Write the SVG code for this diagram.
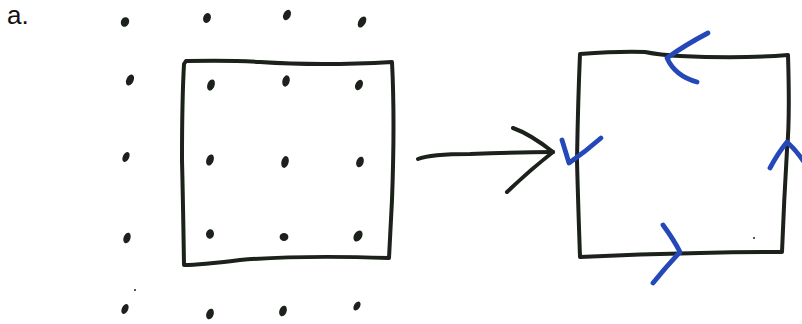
<svg xmlns="http://www.w3.org/2000/svg" width="802" height="324" viewBox="0 0 802 324">
<style>
.ink{fill:none;stroke:#1c211c;stroke-width:4;stroke-linecap:round;stroke-linejoin:round}
.blue{fill:none;stroke:#2448b8;stroke-width:4.8;stroke-linecap:round;stroke-linejoin:round}
.dot{fill:#1c211c}
.lbl{font-family:"Liberation Sans",Arial,sans-serif;font-size:26px;fill:#111}
</style>
<rect width="802" height="324" fill="#ffffff"/>
<text class="lbl" x="7" y="24">a.</text>
<g id="dots">
<ellipse class="dot" cx="125" cy="22" rx="4" ry="5" transform="rotate(25 125 22)"/>
<ellipse class="dot" cx="207" cy="18" rx="3.8" ry="5" transform="rotate(20 207 18)"/>
<ellipse class="dot" cx="287" cy="15" rx="3.6" ry="5.5" transform="rotate(25 287 15)"/>
<ellipse class="dot" cx="362" cy="22" rx="3.6" ry="6" transform="rotate(30 362 22)"/>
<ellipse class="dot" cx="130" cy="80" rx="3.6" ry="5.8" transform="rotate(25 130 80)"/>
<ellipse class="dot" cx="211" cy="85" rx="3.6" ry="5.8" transform="rotate(20 211 85)"/>
<ellipse class="dot" cx="286" cy="81" rx="3.6" ry="5.8" transform="rotate(15 286 81)"/>
<ellipse class="dot" cx="359" cy="85" rx="3.6" ry="5.5" transform="rotate(25 359 85)"/>
<ellipse class="dot" cx="126" cy="157" rx="3.2" ry="5.2" transform="rotate(25 126 157)"/>
<ellipse class="dot" cx="210" cy="160" rx="3.6" ry="5.8" transform="rotate(20 210 160)"/>
<ellipse class="dot" cx="285" cy="162" rx="3.6" ry="6" transform="rotate(15 285 162)"/>
<ellipse class="dot" cx="360" cy="162" rx="3.6" ry="5.5" transform="rotate(20 360 162)"/>
<ellipse class="dot" cx="127" cy="238" rx="3.4" ry="5.5" transform="rotate(20 127 238)"/>
<ellipse class="dot" cx="210" cy="234" rx="4" ry="4.8" transform="rotate(10 210 234)"/>
<ellipse class="dot" cx="284" cy="237" rx="4.4" ry="4"/>
<ellipse class="dot" cx="358" cy="236" rx="4" ry="6" transform="rotate(30 358 236)"/>
<circle class="dot" cx="135" cy="290" r="1"/>
<ellipse class="dot" cx="125" cy="309" rx="3.2" ry="5.2" transform="rotate(25 125 309)"/>
<ellipse class="dot" cx="210" cy="314" rx="3.6" ry="5.5" transform="rotate(20 210 314)"/>
<ellipse class="dot" cx="283" cy="311" rx="3.6" ry="5.5" transform="rotate(20 283 311)"/>
<ellipse class="dot" cx="357" cy="306" rx="3" ry="5" transform="rotate(30 357 306)"/>
<circle class="dot" cx="754" cy="238" r="1"/>
</g>
<g id="square-left">
<path class="ink" d="M184 64 L186 61 Q230 60 260 62 Q320 66 392 62 Q395 120 392 200 Q390 240 389 258 Q300 255 240 260 Q200 265 184 265 Q183 200 182 160 Q182 100 184 64 Z"/>
</g>
<g id="square-right">
<path class="ink" d="M580 54 Q620 51 645 52 Q660 55 680 56 Q740 59 788 55 Q790 120 787 150 Q784 200 782 252 Q740 252 700 253 Q640 254 580 257 Q578 200 577 160 Q578 100 580 54 Z"/>
</g>
<g id="connectors">
<path class="ink" d="M418 159 Q430 154 470 154 Q520 152 553 152"/>
<path class="ink" d="M513 128 Q530 134 553 152 Q530 170 507 192"/>
</g>
<g id="blue-arrows">
<path class="blue" d="M708 33 Q685 45 667 58 Q675 76 697 82"/>
<path class="blue" d="M562 140 L569 163 Q585 152 601 138"/>
<path class="blue" d="M770 168 Q778 153 787 142 Q796 150 804 162"/>
<path class="blue" d="M663 225 Q674 240 680 252 Q665 268 653 283"/>
</g>
</svg>
